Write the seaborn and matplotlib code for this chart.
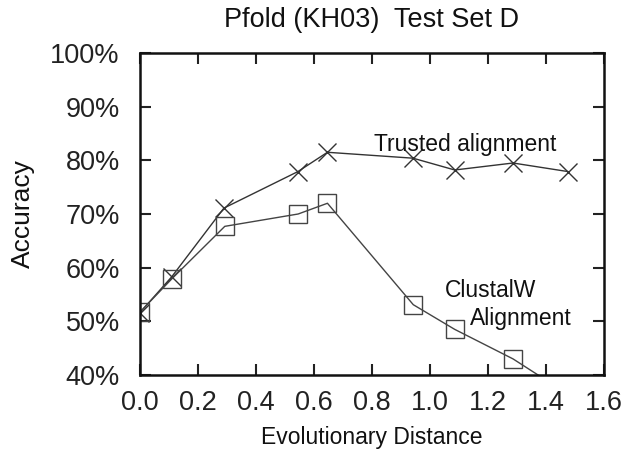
import matplotlib
matplotlib.use("Agg")
import matplotlib.pyplot as plt
import seaborn as sns
import pandas as pd
from matplotlib.ticker import FuncFormatter

trusted_x = [0.0, 0.11, 0.29, 0.545, 0.647, 0.942, 1.086, 1.287, 1.477]
trusted_y = [51.6, 58.3, 71.1, 77.9, 81.5, 80.4, 78.2, 79.5, 77.9]
clustal_x = [0.0, 0.11, 0.293, 0.546, 0.647, 0.943, 1.086, 1.287, 1.477]
clustal_y = [51.7, 57.9, 67.7, 70.0, 72.0, 53.1, 48.5, 43.0, 36.4]

sns.set_style("ticks")
plt.rcParams['font.family'] = ['Liberation Sans', 'DejaVu Sans']

fig = plt.figure(figsize=(6.27, 4.51), dpi=100)
ax = fig.add_axes([0.223, 0.1685, 0.740, 0.714])

df_t = pd.DataFrame({"x": trusted_x, "y": trusted_y})
df_c = pd.DataFrame({"x": clustal_x, "y": clustal_y})

sns.lineplot(data=df_t, x="x", y="y", ax=ax, color="#333333", linewidth=1.0,
             marker="x", markersize=13, markeredgewidth=1.0, markeredgecolor="#333333")
sns.lineplot(data=df_c, x="x", y="y", ax=ax, color="#444444", linewidth=1.0,
             marker="s", markersize=13, markerfacecolor="none",
             markeredgewidth=1.0, markeredgecolor="#444444")

ax.set_xlim(0.0, 1.6)
ax.set_ylim(40, 100)
ax.set_xticks([0.0, 0.2, 0.4, 0.6, 0.8, 1.0, 1.2, 1.4, 1.6])
ax.set_yticks([40, 50, 60, 70, 80, 90, 100])
ax.xaxis.set_major_formatter(FuncFormatter(lambda v, p: f"{v:.1f}"))
ax.yaxis.set_major_formatter(FuncFormatter(lambda v, p: f"{int(round(v))}%"))
ax.tick_params(direction="in", length=8, width=1.5, top=True, right=True,
               labelsize=19.5, color="#222222", labelcolor="#222222")
ax.tick_params(axis="y", pad=14.4)
ax.tick_params(axis="x", pad=10.8)
for s in ax.spines.values():
    s.set_linewidth(1.8)
    s.set_color("#111111")
    s.set_visible(True)

ax.set_xlabel("Evolutionary Distance", fontsize=16.5, color="#111111")
ax.xaxis.set_label_coords(0.5, -0.158)
ax.set_ylabel("Accuracy", fontsize=19, color="#111111")
ax.yaxis.set_label_coords(-0.226, 0.5)
ax.set_title("Pfold (KH03)  Test Set D", fontsize=19.5, pad=18.7, color="#111111")

ax.text(1.121, 81.7, "Trusted alignment", fontsize=16.5, ha="center", va="baseline", color="#111111")
ax.text(1.052, 54.6, "ClustalW", fontsize=16.5, ha="left", va="baseline", color="#111111")
ax.text(1.138, 49.3, "Alignment", fontsize=16.5, ha="left", va="baseline", color="#111111")

fig.savefig("out.png", dpi=100)
